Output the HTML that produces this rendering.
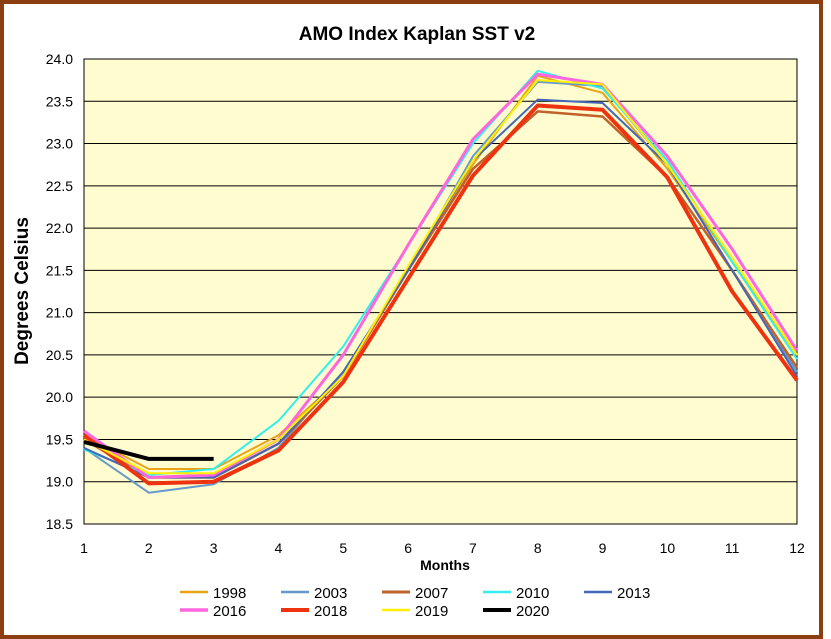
<!DOCTYPE html>
<html><head><meta charset="utf-8"><style>
html,body{margin:0;padding:0;background:#fff;}
svg{display:block;font-family:"Liberation Sans",Arial,sans-serif;}
</style></head><body>
<svg id="c" width="831" height="639" xmlns="http://www.w3.org/2000/svg">
<rect x="2" y="2" width="819" height="635" fill="#fff" stroke="#8B3E0F" stroke-width="4"/>
<rect x="84" y="59" width="713" height="465" fill="#FFFDD0" stroke="#000" stroke-width="1"/>
<text x="417" y="40" font-size="19" font-weight="bold" text-anchor="middle">AMO Index Kaplan SST v2</text>
<text transform="translate(28,291) rotate(-90)" font-size="19" font-weight="bold" text-anchor="middle">Degrees Celsius</text>
<text x="445" y="570" font-size="14" font-weight="bold" text-anchor="middle">Months</text>
<g id="g"></g>
</svg>
<script>
var g=document.getElementById('g'),s='';
function Y(v){return 59+(24-v)*465/5.5;}
function X(m){return 84+(m-1)*713/11;}
for(var i=0;i<=11;i++){var v=18.5+i*0.5,y=Y(v);
 if(i>0&&i<11)s+='<line x1="84" x2="797" y1="'+y+'" y2="'+y+'" stroke="#000" stroke-width="1"/>';
 s+='<text x="73" y="'+(y+5)+'" font-size="14" text-anchor="end">'+v.toFixed(1)+'</text>';}
for(var m=1;m<=12;m++){s+='<text x="'+X(m)+'" y="553" font-size="14" text-anchor="middle">'+m+'</text>';}
var D=[
['1998','#E8A317',2,[19.55,19.15,19.15,19.55,20.25,21.5,22.75,23.8,23.6,22.7,21.6,20.5]],
['2003','#6699CC',2,[19.4,18.87,18.97,19.4,20.3,21.5,22.85,23.73,23.68,22.75,21.5,20.3]],
['2007','#C0622B',2.5,[19.5,19.05,19.05,19.45,20.25,21.5,22.7,23.38,23.32,22.6,21.5,20.35]],
['2010','#33EEEE',2,[19.38,19.08,19.15,19.72,20.6,21.8,23.0,23.86,23.65,22.8,21.6,20.45]],
['2013','#4466BB',2,[19.4,19.05,19.05,19.45,20.3,21.5,22.8,23.52,23.48,22.75,21.5,20.25]],
['2016','#FF66DD',3,[19.6,19.05,19.08,19.5,20.5,21.8,23.05,23.82,23.7,22.85,21.75,20.55]],
['2018','#EE3311',4,[19.55,18.98,19.0,19.37,20.18,21.4,22.62,23.45,23.4,22.6,21.25,20.2]],
['2019','#FFF000',2,[19.5,19.1,19.1,19.5,20.25,21.55,22.8,23.75,23.7,22.75,21.65,20.5]],
['2020','#000000',4,[19.47,19.27,19.27]]];
D.forEach(function(d,k){var p=d[3].map(function(v,i){return X(i+1)+','+Y(v)}).join(' ');
 s+='<polyline points="'+p+'" fill="none" stroke="'+d[1]+'" stroke-width="'+d[2]+'" stroke-linejoin="round"/>';
 var r=k<5?0:1,c=k<5?k:k-5,lx=180+c*101,ly=r?610:592;
 s+='<line x1="'+lx+'" x2="'+(lx+28)+'" y1="'+ly+'" y2="'+ly+'" stroke="'+d[1]+'" stroke-width="'+Math.min(d[2]+0.5,4)+'"/>';
 s+='<text x="'+(lx+33)+'" y="'+(ly+6)+'" font-size="15">'+d[0]+'</text>';});
g.innerHTML=s;
</script>
</body></html>
